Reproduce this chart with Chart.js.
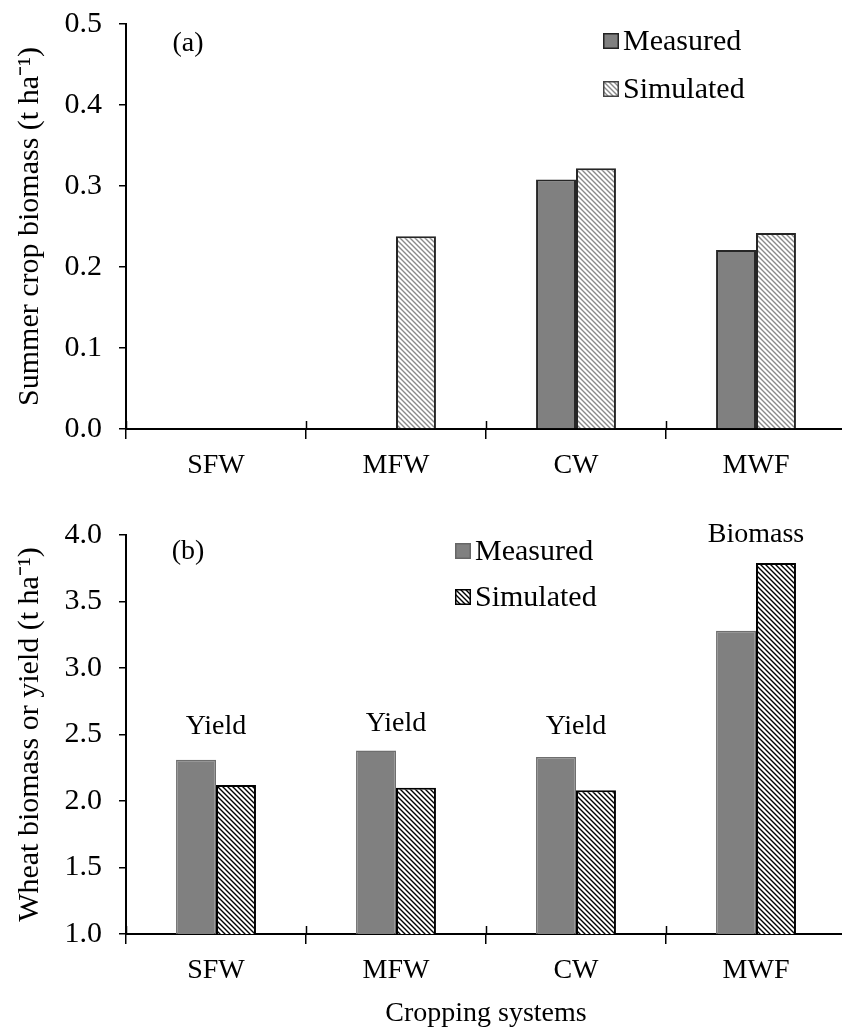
<!DOCTYPE html>
<html><head><meta charset="utf-8">
<script src="https://cdn.jsdelivr.net/npm/chart.js@4.4.1/dist/chart.umd.min.js"></script>
<style>
html,body{margin:0;padding:0;background:#fff;overflow:hidden;width:842px;height:1032px;}
#wrap{position:relative;width:842px;height:1032px;overflow:hidden;background:#fff;}
canvas{position:absolute;left:0;}
#ca{top:-12px;}
#cb{top:499px;}
</style></head><body>
<div id="wrap"><canvas id="ca" width="850" height="512"></canvas><canvas id="cb" width="850" height="533"></canvas></div>
<script>
// ---- data ----
const categories = ['SFW', 'MFW', 'CW', 'MWF'];
const seriesNames = ['Measured', 'Simulated'];
const summerMeasured = [null, null, 0.308, 0.221];
const summerSimulated = [null, 0.238, 0.322, 0.242];
const wheatMeasured = [2.31, 2.38, 2.33, 3.28];
const wheatSimulated = [2.12, 2.10, 2.08, 3.79];
const wheatBarLabels = ['Yield', 'Yield', 'Yield', 'Biomass'];
const wheatBarLabelValues = [2.56, 2.58, 2.56, 4.0];
const summerTicks = [0, 0.1, 0.2, 0.3, 0.4, 0.5];
const wheatTicks = [1.0, 1.5, 2.0, 2.5, 3.0, 3.5, 4.0];
const summerYTitle = 'Summer crop biomass (t ha\u207B\u00B9)';
const wheatYTitle = 'Wheat biomass or yield (t ha\u207B\u00B9)';
const xTitle = 'Cropping systems';

// ---- styling ----
const FAM = "'Liberation Serif','Times New Roman',serif";
const FS = 28;   // category labels, annotations
const FL = 30;   // legend, y ticks, y titles
Chart.defaults.color = '#000';
Chart.defaults.font.family = FAM;

function hatch(ctx, lineColor, size, lw) {
  const c = document.createElement('canvas');
  c.width = size; c.height = size;
  const g = c.getContext('2d');
  g.fillStyle = '#fff'; g.fillRect(0, 0, size, size);
  g.strokeStyle = lineColor; g.lineWidth = lw;
  g.beginPath();
  g.moveTo(-1, -1); g.lineTo(size + 1, size + 1);
  g.moveTo(-1, size - 1); g.lineTo(1, size + 1);
  g.moveTo(size - 1, -1); g.lineTo(size + 1, 1);
  g.stroke();
  return ctx.createPattern(c, 'repeat');
}

const crossTicks = {
  id: 'crossTicks',
  afterDraw(chart, args, opts) {
    const x = chart.scales.x, ctx = chart.ctx, n = x.ticks.length;
    ctx.save(); ctx.strokeStyle = '#000'; ctx.lineWidth = 1.5;
    for (let i = 0; i <= n; i++) {
      const px = Math.round(x.left + i * (x.width / n)) + 0.5;
      ctx.beginPath(); ctx.moveTo(px, x.top - opts.up); ctx.lineTo(px, x.top); ctx.stroke();
    }
    ctx.restore();
  }
};

const boxLegend = {
  id: 'boxLegend',
  afterDraw(chart, args, opts) {
    const ctx = chart.ctx;
    ctx.save();
    chart.data.datasets.forEach((ds, i) => {
      const y = opts.y + i * opts.gap;
      ctx.fillStyle = ds.backgroundColor;
      ctx.fillRect(opts.x, y - 8, 16, 16);
      ctx.strokeStyle = opts.border[i]; ctx.lineWidth = 1.5;
      ctx.strokeRect(opts.x + 0.75, y - 7.25, 14.5, 14.5);
      ctx.fillStyle = '#000'; ctx.font = FL + 'px ' + FAM;
      ctx.textBaseline = 'middle'; ctx.textAlign = 'left';
      ctx.fillText(ds.label, opts.x + 20, y + 1);
    });
    ctx.restore();
  }
};

const texts = {
  id: 'texts',
  afterDraw(chart, args, opts) {
    const ctx = chart.ctx;
    ctx.save();
    ctx.fillStyle = '#000'; ctx.font = FS + 'px ' + FAM;
    ctx.textBaseline = 'middle'; ctx.textAlign = 'center';
    if (opts.panel) ctx.fillText(opts.panel.text, opts.panel.x, opts.panel.y);
    if (opts.barLabels) {
      const xs = chart.scales.x, ys = chart.scales.y;
      opts.barLabels.forEach((t, i) => {
        ctx.fillText(t, xs.getPixelForValue(i), ys.getPixelForValue(opts.barLabelValues[i]));
      });
    }
    ctx.restore();
  }
};

function makeChart(id, measured, simulated, styles, yTicks, yTitle, opts) {
  const ctx = document.getElementById(id).getContext('2d');
  return new Chart(ctx, {
    type: 'bar',
    data: {
      labels: categories,
      datasets: [
        { label: seriesNames[0], data: measured, backgroundColor: '#808080',
          borderColor: styles.mBorder, borderWidth: styles.mBw,
          categoryPercentage: 0.444, barPercentage: 1.0 },
        { label: seriesNames[1], data: simulated, backgroundColor: hatch(ctx, styles.hatchColor, 5, styles.hatchLw),
          borderColor: styles.sBorder, borderWidth: styles.sBw,
          categoryPercentage: 0.444, barPercentage: 1.0 }
      ]
    },
    options: {
      responsive: false, animation: false,
      layout: { padding: { top: opts.top, right: 4, left: 0, bottom: 0 } },
      plugins: {
        legend: { display: false }, tooltip: { enabled: false },
        boxLegend: opts.legend,
        crossTicks: { up: 8 },
        texts: opts.texts
      },
      scales: {
        x: {
          grid: { display: true, offset: true, drawOnChartArea: false, drawTicks: true, tickLength: 10, color: '#000', lineWidth: 1.5 },
          border: { display: true, color: '#000', width: 2 },
          ticks: { font: { size: FS, family: FAM }, color: '#000', padding: 10, maxRotation: 0 },
          title: opts.xTitle ? { display: true, text: opts.xTitle, font: { size: FS, family: FAM }, color: '#000', padding: { top: 0, bottom: 2 } } : { display: false },
          afterFit(s) { s.height = opts.xHeight; }
        },
        y: {
          min: yTicks[0], max: yTicks[yTicks.length - 1],
          afterBuildTicks(s) { s.ticks = yTicks.map(v => ({ value: v })); },
          grid: { display: true, drawOnChartArea: false, drawTicks: true, tickLength: 7, color: '#000', lineWidth: 1.5 },
          border: { display: true, color: '#000', width: 2 },
          ticks: { font: { size: FL, family: FAM }, color: '#000', padding: 17, callback: v => Number(v).toFixed(1) },
          title: { display: true, text: yTitle, font: { size: FL, family: FAM }, color: '#000', padding: { top: 12, bottom: 0 } },
          afterFit(s) { s.width = 126; }
        }
      }
    },
    plugins: [crossTicks, boxLegend, texts]
  });
}

makeChart('ca', summerMeasured, summerSimulated,
  { mBorder: '#262626', mBw: 2, sBorder: '#262626', sBw: 2, hatchColor: '#8a8a8a', hatchLw: 1.4 },
  summerTicks, summerYTitle,
  { top: 36, xHeight: 71,
    legend: { x: 603, y: 53, gap: 48, border: ['#222', '#444'] },
    texts: { panel: { text: '(a)', x: 188, y: 56 } } });

makeChart('cb', wheatMeasured, wheatSimulated,
  { mBorder: '#6e6e6e', mBw: 1.5, sBorder: '#000', sBw: 2, hatchColor: '#000', hatchLw: 1.4 },
  wheatTicks, wheatYTitle,
  { top: 36, xHeight: 98, xTitle: xTitle,
    legend: { x: 455, y: 52, gap: 46, border: ['#666', '#000'] },
    texts: { panel: { text: '(b)', x: 188, y: 53 }, barLabels: wheatBarLabels, barLabelValues: wheatBarLabelValues } });
</script>
</body></html>
